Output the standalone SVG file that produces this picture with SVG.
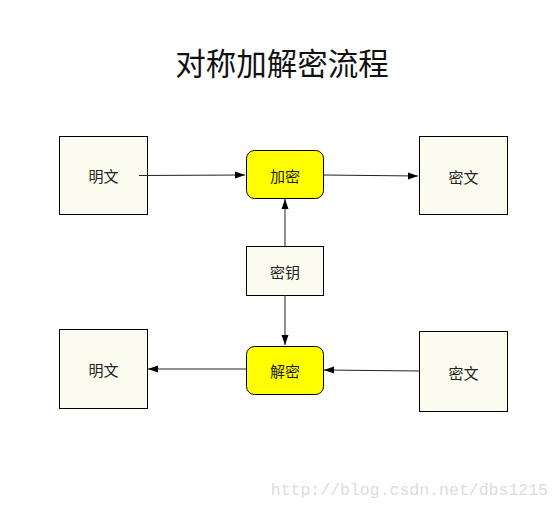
<svg xmlns="http://www.w3.org/2000/svg" width="559" height="508" viewBox="0 0 559 508">
<defs>
<style>
.box{fill:#fbfcef;stroke:#000;stroke-width:1}
.proc{fill:#ffff00;stroke:#000;stroke-width:1}
.lbl{font-family:"Noto Sans CJK SC","Liberation Sans",sans-serif;font-size:15px;fill:#222;text-anchor:middle;dominant-baseline:central}
.edge{stroke:#222;stroke-width:1;fill:none;marker-end:url(#ah)}
</style>
<marker id="ah" viewBox="0 0 10 10" refX="10" refY="5" markerWidth="10" markerHeight="10" markerUnits="userSpaceOnUse" orient="auto">
<path d="M0,1.5 L10,5 L0,8.5 Z" fill="#000"/>
</marker>
</defs>
<rect width="559" height="508" fill="#fff"/>
<text x="282" y="75" font-family="Noto Sans CJK SC,sans-serif" font-size="30.5" text-anchor="middle" fill="#111">对称加解密流程</text>
<g id="plain-top"><rect class="box" x="59.5" y="136.5" width="88" height="78"/><text class="lbl" x="103.5" y="175">明文</text></g>
<g id="encrypt"><rect class="proc" x="246.5" y="150.5" width="77" height="48" rx="8"/><text class="lbl" x="285" y="175">加密</text></g>
<g id="cipher-top"><rect class="box" x="419.5" y="136.5" width="88" height="78"/><text class="lbl" x="463.5" y="176">密文</text></g>
<g id="key"><rect class="box" x="246.5" y="246.5" width="77" height="49"/><text class="lbl" x="285" y="271">密钥</text></g>
<g id="plain-bottom"><rect class="box" x="59.5" y="329.5" width="88" height="79"/><text class="lbl" x="103.5" y="369">明文</text></g>
<g id="decrypt"><rect class="proc" x="246.5" y="346.5" width="77" height="48" rx="8"/><text class="lbl" x="285" y="370">解密</text></g>
<g id="cipher-bottom"><rect class="box" x="419.5" y="331.5" width="88" height="80"/><text class="lbl" x="463.5" y="372">密文</text></g>
<g id="connectors">
<path class="edge" d="M139,175.5 L245,175"/>
<path class="edge" d="M324,175 L418,176"/>
<path class="edge" d="M285,246 L285,199"/>
<path class="edge" d="M285,295 L285,345"/>
<path class="edge" d="M419,371 L324,370"/>
<path class="edge" d="M246,369 L148,369"/>
</g>
<text x="548" y="495" font-family="Liberation Mono,monospace" font-size="16.5" text-anchor="end" fill="#dcdcdc">http://blog.csdn.net/dbs1215</text>
</svg>
